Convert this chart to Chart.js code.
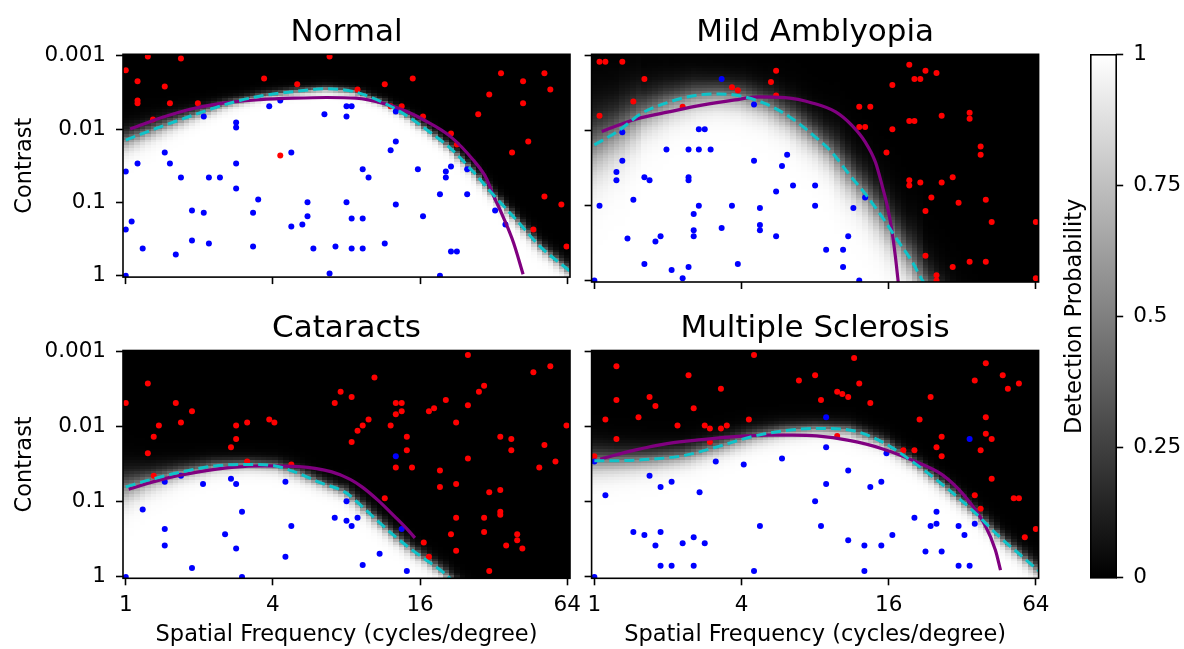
<!DOCTYPE html>
<html>
<head>
<meta charset="utf-8">
<script src="https://cdn.jsdelivr.net/npm/chart.js@4.4.1/dist/chart.umd.min.js"></script>
<style>
  html, body { margin: 0; padding: 0; background: #fff; }
  #fig { position: relative; width: 1184px; height: 649px; overflow: hidden; background: #fff; }
  canvas { position: absolute; }
</style>
</head>
<body>
<div id="fig">
  <canvas id="normal" width="600" height="300" style="left:0px;top:0px"></canvas>
  <canvas id="amblyopia" width="490" height="300" style="left:570px;top:0px"></canvas>
  <canvas id="cataracts" width="600" height="349" style="left:0px;top:300px"></canvas>
  <canvas id="sclerosis" width="490" height="349" style="left:570px;top:300px"></canvas>
  <canvas id="cbar" width="139" height="649" style="left:1045px;top:0px"></canvas>
</div>
<script>
// tick values
const freqTicks = [1, 4, 16, 64];
const contrastTicks = [0.001, 0.01, 0.1, 1];
const probTicks = [0, 0.25, 0.5, 0.75, 1];

// all points / curves are [log2 cycles per degree, log10 contrast]

// Normal
const normalMissed = [[0.30,-2.99],[0.75,-2.96],[0,-2.80],[0.16,-2.65],[0.53,-2.58],[0.16,-2.39],[0.16,-2.35],[0.60,-2.35],[0.98,-2.35],[1.88,-2.69],[2.33,-2.61],[2.77,-2.99],[0.37,-2.13],[2.10,-1.64],[3.15,-2.54],[3.52,-2.61],[3.90,-2.69],[3.60,-2.31],[3.75,-2.31],[4.04,-2.17],[4.42,-1.94],[4.50,-1.79],[4.79,-2.20],[4.94,-2.47],[5.10,-2.76],[5.40,-2.65],[5.40,-2.35],[5.69,-2.76],[5.77,-2.54],[5.47,-1.83],[5.25,-1.68],[5.69,-1.08],[5.92,-0.97],[5.54,-0.63],[5.99,-0.40]];
const normalSeen = [[1.95,-2.31],[2.10,-2.39],[1.06,-2.17],[1.50,-2.09],[1.50,-2.02],[2.70,-2.20],[3.00,-2.31],[3.00,-2.17],[0.53,-1.68],[2.25,-1.68],[0.16,-1.53],[0.60,-1.53],[1.50,-1.53],[0,-1.42],[0.75,-1.34],[1.13,-1.34],[1.28,-1.34],[1.50,-1.19],[1.80,-1.04],[2.47,-1.00],[3.00,-1.00],[0.90,-0.89],[1.06,-0.86],[1.73,-0.86],[2.47,-0.81],[0.08,-0.74],[0,-0.63],[2.25,-0.67],[2.40,-0.70],[0.90,-0.48],[1.13,-0.44],[0.23,-0.37],[0.68,-0.29],[1.73,-0.40],[2.55,-0.37],[2.85,-0.40],[2.77,-0.03],[0,0],[3.07,-2.31],[3.67,-2.24],[3.67,-1.83],[3.60,-1.71],[3.22,-1.45],[3.30,-1.34],[3.97,-1.45],[4.35,-1.42],[4.35,-1.34],[4.42,-1.49],[4.64,-1.45],[3.67,-0.97],[4.27,-1.11],[4.64,-1.11],[3.07,-0.78],[3.22,-0.78],[4.04,-0.81],[5.02,-0.89],[5.16,-0.70],[3.52,-0.44],[3.07,-0.37],[3.22,-0.37],[4.42,-0.33],[4.50,-0.33],[4.27,0]];
const normalTrue = [[0.06,-2.00],[0.47,-2.15],[0.92,-2.28],[1.37,-2.36],[1.83,-2.40],[2.28,-2.42],[2.73,-2.43],[3.13,-2.42],[3.50,-2.35],[3.82,-2.24],[4.04,-2.13],[4.41,-1.90],[4.72,-1.58],[4.90,-1.33],[4.99,-1.11],[5.13,-0.80],[5.27,-0.45],[5.40,-0.02]];
const normalEst = [[0,-1.85],[0.47,-2.03],[0.92,-2.19],[1.37,-2.34],[1.83,-2.45],[2.28,-2.51],[2.73,-2.55],[3.10,-2.51],[3.50,-2.36],[3.82,-2.18],[4.13,-1.96],[4.41,-1.74],[4.72,-1.42],[4.99,-1.11],[5.31,-0.76],[5.63,-0.40],[6.04,-0.06]];
const normalSpread = [0.075,0.06,0.045,0.035,0.03,0.028,0.027,0.027,0.027,0.028,0.03,0.03,0.03,0.03,0.032,0.035,0.04];

// Mild Amblyopia
const amblyopiaMissed = [[0.07,-2.92],[0.15,-2.92],[0.38,-2.92],[0.68,-2.69],[0.53,-2.39],[0.07,-2.20],[1.20,-2.32],[1.87,-2.58],[1.95,-2.54],[2.40,-2.65],[2.47,-2.80],[2.47,-2.47],[4.28,-2.88],[4.50,-2.80],[4.65,-2.77],[4.35,-2.69],[4.43,-2.69],[4.05,-2.61],[3.60,-2.32],[3.75,-2.32],[3.60,-2.05],[3.68,-2.05],[4.28,-2.13],[4.35,-2.13],[4.72,-2.20],[5.10,-2.24],[5.10,-2.16],[4.05,-2.02],[3.97,-1.71],[5.25,-1.79],[5.25,-1.68],[4.28,-1.34],[4.28,-1.27],[4.43,-1.31],[4.72,-1.31],[4.87,-1.38],[4.58,-1.11],[4.95,-1.04],[5.32,-1.08],[4.50,-0.93],[5.40,-0.78],[6.00,-0.78],[4.50,-0.33],[4.87,-0.18],[5.10,-0.25],[5.32,-0.25],[4.65,-0.07],[4.65,0],[6.00,-0.03]];
const amblyopiaSeen = [[1.73,-2.69],[2.17,-2.35],[0.38,-1.98],[1.42,-2.02],[1.50,-2.02],[0.98,-1.75],[1.28,-1.75],[1.42,-1.75],[1.58,-1.75],[0.38,-1.60],[2.17,-1.60],[2.62,-1.68],[2.55,-1.53],[0.30,-1.45],[0.30,-1.34],[0.68,-1.38],[0.75,-1.34],[1.28,-1.38],[1.28,-1.34],[2.47,-1.19],[2.70,-1.27],[3.00,-1.27],[3.00,-1.00],[0.53,-1.08],[0.07,-1.00],[1.42,-1.00],[1.87,-1.00],[2.25,-0.97],[1.35,-0.89],[1.73,-0.70],[1.35,-0.67],[1.35,-0.59],[2.25,-0.74],[2.25,-0.67],[2.47,-0.59],[0.45,-0.56],[0.83,-0.52],[0.90,-0.59],[0.68,-0.22],[1.05,-0.14],[1.28,-0.18],[1.95,-0.22],[1.20,-0.03],[0,0],[3.68,-1.11],[3.52,-0.97],[3.45,-0.59],[3.15,-0.41],[3.38,-0.41],[3.38,-0.18],[3.60,0]];
const amblyopiaTrue = [[0.10,-1.99],[0.55,-2.15],[1.01,-2.25],[1.46,-2.34],[1.91,-2.41],[2.23,-2.45],[2.59,-2.44],[2.96,-2.37],[3.28,-2.25],[3.50,-2.07],[3.68,-1.85],[3.82,-1.58],[3.91,-1.27],[3.98,-1.00],[4.04,-0.69],[4.09,-0.33],[4.13,0.02]];
const amblyopiaEst = [[0,-1.81],[0.33,-2.00],[0.64,-2.23],[1.01,-2.38],[1.37,-2.47],[1.69,-2.49],[2.00,-2.46],[2.37,-2.34],[2.69,-2.16],[3.02,-1.90],[3.23,-1.71],[3.46,-1.42],[3.68,-1.16],[3.91,-0.85],[4.14,-0.51],[4.32,-0.25],[4.46,0],[4.55,0.12]];
const amblyopiaSpread = [0.2,0.17,0.14,0.12,0.11,0.1,0.1,0.1,0.1,0.1,0.1,0.1,0.1,0.1,0.1,0.1,0.1,0.1];

// Cataracts
const cataractsMissed = [[0.30,-2.58],[0,-2.32],[0.68,-2.32],[0.90,-2.21],[0.45,-2.02],[0.75,-2.06],[0.38,-1.87],[0.30,-1.65],[1.50,-2.02],[1.50,-1.84],[1.43,-1.73],[1.65,-2.06],[1.95,-2.10],[2.02,-2.06],[2.84,-2.32],[2.92,-2.47],[0.38,-1.35],[1.65,-1.54],[2.25,-1.50],[4.65,-2.96],[3.38,-2.66],[5.54,-2.73],[5.77,-2.81],[3.07,-2.40],[3.67,-2.32],[3.75,-2.32],[3.67,-2.17],[3.75,-2.21],[4.35,-2.36],[4.12,-2.21],[4.19,-2.25],[4.80,-2.47],[4.87,-2.55],[4.65,-2.29],[3.30,-2.10],[3.22,-2.02],[3.15,-1.95],[3.07,-1.80],[3.60,-2.02],[3.82,-1.87],[3.82,-1.69],[4.49,-2.06],[5.99,-2.02],[5.09,-1.87],[5.24,-1.84],[5.24,-1.69],[5.69,-1.76],[3.67,-1.46],[3.89,-1.46],[4.65,-1.58],[4.27,-1.42],[5.62,-1.46],[5.84,-1.54],[4.27,-1.20],[4.49,-1.24],[4.94,-1.13],[5.09,-1.16],[3.52,-1.05],[5.09,-0.87],[5.09,-0.83],[4.49,-0.79],[4.87,-0.79],[4.87,-0.60],[4.42,-0.57],[5.32,-0.57],[5.32,-0.49],[5.17,-0.42],[5.39,-0.38],[4.05,-0.46],[4.49,-0.35],[4.12,-0.27],[4.94,-0.08]];
const cataractsSeen = [[0.53,-1.27],[0.75,-1.35],[1.05,-1.24],[1.43,-1.31],[1.50,-1.24],[2.17,-1.27],[0.23,-0.90],[1.58,-0.87],[0.53,-0.64],[1.35,-0.57],[2.25,-0.68],[0.53,-0.42],[1.50,-0.38],[2.17,-0.27],[0.90,-0.12],[0,0],[1.58,0],[2.84,-0.79],[3.00,-0.75],[3.00,-1.01],[3.67,-1.61],[3.07,-0.68],[3.15,-0.79],[3.75,-0.64],[3.45,-0.31],[3.22,-0.16],[3.82,-0.08]];
const cataractsTrue = [[0.04,-1.17],[0.53,-1.31],[0.99,-1.40],[1.44,-1.46],[1.89,-1.48],[2.35,-1.47],[2.80,-1.40],[3.05,-1.30],[3.21,-1.20],[3.43,-1.02],[3.66,-0.80],[3.84,-0.62],[3.93,-0.52]];
const cataractsEst = [[0,-1.20],[0.31,-1.29],[0.76,-1.40],[1.21,-1.48],[1.67,-1.50],[2.03,-1.48],[2.35,-1.38],[2.66,-1.25],[2.98,-1.13],[3.21,-0.94],[3.43,-0.74],[3.66,-0.54],[3.89,-0.36],[4.12,-0.20],[4.33,-0.05],[4.45,0.06],[4.55,0.15]];
const cataractsSpread = [0.11,0.08,0.06,0.05,0.045,0.045,0.045,0.04,0.04,0.04,0.04,0.04,0.04,0.04,0.04,0.04,0.04];

// Multiple Sclerosis
const sclerosisMissed = [[0.30,-2.81],[1.28,-2.69],[2.17,-2.96],[1.72,-2.51],[0.30,-2.36],[0.75,-2.40],[0.83,-2.28],[1.35,-2.25],[0.15,-2.10],[0.60,-2.13],[1.13,-2.02],[1.50,-2.02],[1.57,-1.98],[1.72,-1.98],[1.80,-2.02],[2.10,-2.10],[0.30,-1.84],[2.78,-2.62],[3.00,-2.69],[0,-1.61],[1.57,-1.80],[3.53,-2.92],[3.60,-2.58],[3.30,-2.47],[3.37,-2.44],[3.45,-2.40],[3.08,-2.36],[3.75,-2.32],[4.57,-2.40],[4.42,-2.10],[4.72,-1.87],[4.65,-1.73],[4.72,-1.61],[4.20,-1.69],[4.35,-1.69],[5.32,-2.85],[5.55,-2.69],[5.17,-2.62],[5.62,-2.51],[5.77,-2.58],[5.32,-2.13],[5.32,-1.91],[5.40,-1.84],[5.25,-1.69],[5.40,-1.31],[5.17,-1.09],[5.70,-1.05],[5.77,-1.05],[5.25,-0.91],[5.85,-0.53],[6.00,-0.64],[3.30,-1.88]];
const sclerosisSeen = [[0,-1.54],[1.65,-1.54],[2.03,-1.50],[2.55,-1.58],[0.75,-1.35],[0.90,-1.20],[1.05,-1.27],[1.43,-1.13],[0.15,-1.09],[3.00,-1.01],[2.25,-0.68],[0.53,-0.60],[0.68,-0.56],[0.90,-0.60],[0.83,-0.42],[1.20,-0.45],[1.35,-0.53],[1.50,-0.45],[0.90,-0.15],[1.05,-0.15],[1.35,-0.15],[2.17,-0.08],[0,0],[3.15,-2.13],[5.10,-1.84],[3.15,-1.73],[3.97,-1.65],[3.45,-1.42],[3.15,-1.24],[3.75,-1.20],[3.90,-1.27],[3.08,-0.68],[4.35,-0.79],[4.65,-0.87],[4.57,-0.68],[4.65,-0.71],[4.95,-0.68],[5.03,-0.56],[5.17,-0.71],[4.05,-0.56],[3.45,-0.49],[3.67,-0.42],[3.90,-0.42],[4.50,-0.34],[4.72,-0.34],[4.95,-0.15],[5.10,-0.15],[3.67,-0.08]];
const sclerosisTrue = [[0.08,-1.57],[0.55,-1.69],[1.01,-1.78],[1.46,-1.83],[1.91,-1.87],[2.37,-1.89],[2.69,-1.89],[3.02,-1.88],[3.46,-1.82],[3.91,-1.71],[4.36,-1.54],[4.73,-1.36],[5.04,-1.07],[5.31,-0.69],[5.45,-0.36],[5.52,-0.09]];
const sclerosisEst = [[0,-1.55],[0.33,-1.55],[0.78,-1.57],[1.23,-1.62],[1.69,-1.74],[2.14,-1.87],[2.59,-1.95],[3.02,-1.98],[3.46,-1.96],[3.91,-1.80],[4.36,-1.51],[4.82,-1.16],[5.18,-0.85],[5.50,-0.54],[5.77,-0.31],[6.04,-0.08]];
const sclerosisSpread = [0.1,0.09,0.08,0.07,0.065,0.06,0.055,0.05,0.05,0.045,0.04,0.04,0.04,0.04,0.04,0.045];

// probability grid (81 x 81 cells over 6 octaves x 3 decades)
const gridN = 81;
const lfLo = 0, lfHi = 6, lcLo = -3, lcHi = 0;
const dF = (lfHi - lfLo) / (gridN - 1);
const dC = (lcHi - lcLo) / (gridN - 1);

Chart.defaults.font.family = 'DejaVu Sans';
Chart.defaults.font.size = 21.5;
Chart.defaults.color = '#000';

const toXY = arr => arr.map(([lf, lc]) => ({ x: 2 ** lf, y: 10 ** lc }));

function interp(xs, ys, x) {
  let i = 0;
  while (i < xs.length - 2 && x > xs[i + 1]) i++;
  const t = (x - xs[i]) / (xs[i + 1] - xs[i]);
  return ys[i] + t * (ys[i + 1] - ys[i]);
}

// grey detection-probability map around the estimated threshold curve
function heatmap(curve, spread) {
  const kx = curve.map(p => p[0]), ky = curve.map(p => p[1]);
  return {
    id: 'heatmap',
    beforeDatasetsDraw(chart) {
      const { ctx, chartArea: a, scales: { x, y } } = chart;
      const pxDec = Math.abs(y.getPixelForValue(1) - y.getPixelForValue(0.1));
      const thrPx = lf => y.getPixelForValue(10 ** interp(kx, ky, lf));
      ctx.save();
      ctx.beginPath();
      ctx.rect(a.left, a.top, a.right - a.left, a.bottom - a.top);
      ctx.clip();
      for (let i = 0; i < gridN; i++) {
        const lf = lfLo + i * dF;
        const x0 = Math.round(x.getPixelForValue(2 ** (lf - dF / 2)));
        const x1 = Math.round(x.getPixelForValue(2 ** (lf + dF / 2)));
        const h = 0.02;
        const slope = (thrPx(lf + h) - thrPx(lf - h)) /
          (x.getPixelForValue(2 ** (lf + h)) - x.getPixelForValue(2 ** (lf - h)));
        const norm = Math.sqrt(1 + slope * slope);
        const thr = thrPx(lf);
        const w = Math.max(0.015, interp(kx, spread, lf)) * pxDec;
        for (let j = 0; j < gridN; j++) {
          const lc = lcLo + j * dC;
          const d = (y.getPixelForValue(10 ** lc) - thr) / norm;
          const v = Math.round(255 / (1 + Math.exp(-d / w)));
          const y0 = Math.round(y.getPixelForValue(10 ** (lc - dC / 2)));
          const y1 = Math.round(y.getPixelForValue(10 ** (lc + dC / 2)));
          ctx.fillStyle = `rgb(${v},${v},${v})`;
          ctx.fillRect(x0, Math.min(y0, y1), x1 - x0, Math.abs(y1 - y0));
        }
      }
      ctx.restore();
    }
  };
}

const frame = {
  id: 'frame',
  afterDatasetsDraw(chart) {
    const { ctx, chartArea: a } = chart;
    ctx.save();
    ctx.strokeStyle = '#000';
    ctx.lineWidth = 1.6;
    ctx.strokeRect(a.left, a.top, a.right - a.left, a.bottom - a.top);
    ctx.restore();
  }
};

function labels(title, yLabel, xLabel) {
  return {
    id: 'labels',
    afterDraw(chart) {
      const { ctx, chartArea: a } = chart;
      ctx.save();
      ctx.fillStyle = '#000';
      ctx.textAlign = 'center';
      ctx.textBaseline = 'alphabetic';
      ctx.font = '31px "DejaVu Sans"';
      ctx.fillText(title, (a.left + a.right) / 2, a.top - 13.7);
      ctx.font = '22.5px "DejaVu Sans"';
      if (xLabel) ctx.fillText(xLabel, (a.left + a.right) / 2, a.bottom + 63);
      if (yLabel) {
        ctx.translate(30.6, (a.top + a.bottom) / 2);
        ctx.rotate(-Math.PI / 2);
        ctx.fillText(yLabel, 0, 0);
      }
      ctx.restore();
    }
  };
}

const tickGrid = { drawOnChartArea: false, drawTicks: true, tickLength: 7, tickWidth: 1.6, tickColor: '#000' };

function panel(id, title, missed, seen, truth, est, spread, box) {
  new Chart(document.getElementById(id), {
    type: 'scatter',
    data: {
      datasets: [
        { data: toXY(est), showLine: true, borderColor: '#0fc2c8', borderWidth: 3, borderDash: [10, 5],
          pointRadius: 0, fill: false, cubicInterpolationMode: 'monotone', clip: 0, order: 0 },
        { data: toXY(truth), showLine: true, borderColor: '#800080', borderWidth: 3.2,
          pointRadius: 0, fill: false, cubicInterpolationMode: 'monotone', clip: 0, order: 1 },
        { data: toXY(seen), backgroundColor: '#0000ff', borderColor: '#0000ff', pointRadius: 3,
          pointBorderWidth: 0, pointHoverRadius: 3, clip: 0, order: 2 },
        { data: toXY(missed), backgroundColor: '#ff0000', borderColor: '#ff0000', pointRadius: 3,
          pointBorderWidth: 0, pointHoverRadius: 3, clip: 0, order: 3 }
      ]
    },
    options: {
      animation: false,
      responsive: false,
      devicePixelRatio: 1,
      events: [],
      layout: { padding: { left: 0, right: box.right, top: box.top, bottom: 0 } },
      plugins: { legend: { display: false }, tooltip: { enabled: false } },
      scales: {
        x: {
          type: 'logarithmic',
          min: 2 ** (lfLo - dF / 2), max: 2 ** (lfHi + dF / 2),
          afterBuildTicks: s => { s.ticks = freqTicks.map(v => ({ value: v })); },
          afterFit: s => { s.height = box.xh; },
          ticks: { display: box.xTicks, callback: v => String(v), padding: 7, maxRotation: 0, autoSkip: false },
          grid: tickGrid,
          border: { display: false }
        },
        y: {
          type: 'logarithmic',
          reverse: true,
          min: 10 ** (lcLo - dC / 2), max: 10 ** (lcHi + dC / 2),
          afterBuildTicks: s => { s.ticks = contrastTicks.map(v => ({ value: v })); },
          afterFit: s => { s.width = box.yw; },
          ticks: { display: box.yTicks, callback: v => String(v), padding: 10, autoSkip: false },
          grid: tickGrid,
          border: { display: false }
        }
      }
    },
    plugins: [heatmap(est, spread), frame,
      labels(title, box.yTicks ? 'Contrast' : null, box.xTicks ? 'Spatial Frequency (cycles/degree)' : null)]
  });
}

panel('normal', 'Normal', normalMissed, normalSeen, normalTrue, normalEst, normalSpread,
  { top: 54.3, right: 30, yw: 123, xh: 18, xTicks: false, yTicks: true });
panel('amblyopia', 'Mild Amblyopia', amblyopiaMissed, amblyopiaSeen, amblyopiaTrue, amblyopiaEst, amblyopiaSpread,
  { top: 54.3, right: 21.4, yw: 21.6, xh: 18, xTicks: false, yTicks: false });
panel('cataracts', 'Cataracts', cataractsMissed, cataractsSeen, cataractsTrue, cataractsEst, cataractsSpread,
  { top: 50.5, right: 30, yw: 123, xh: 70.7, xTicks: true, yTicks: true });
panel('sclerosis', 'Multiple Sclerosis', sclerosisMissed, sclerosisSeen, sclerosisTrue, sclerosisEst, sclerosisSpread,
  { top: 50.5, right: 21.4, yw: 21.6, xh: 70.7, xTicks: true, yTicks: false });

// colorbar
const colorbar = {
  id: 'colorbar',
  beforeDatasetsDraw(chart) {
    const { ctx, chartArea: a, scales: { y } } = chart;
    const y0 = y.getPixelForValue(0), y1 = y.getPixelForValue(1);
    const g = ctx.createLinearGradient(0, y0, 0, y1);
    g.addColorStop(0, '#000');
    g.addColorStop(1, '#fff');
    ctx.save();
    ctx.fillStyle = g;
    ctx.fillRect(a.left, y1, a.right - a.left, y0 - y1);
    ctx.strokeStyle = '#000';
    ctx.lineWidth = 1.6;
    ctx.strokeRect(a.left, a.top, a.right - a.left, a.bottom - a.top);
    ctx.fillStyle = '#000';
    ctx.font = '22.5px "DejaVu Sans"';
    ctx.textAlign = 'center';
    ctx.translate(35.8, (a.top + a.bottom) / 2);
    ctx.rotate(-Math.PI / 2);
    ctx.fillText('Detection Probability', 0, 0);
    ctx.restore();
  }
};

new Chart(document.getElementById('cbar'), {
  type: 'scatter',
  data: { datasets: [{ data: [] }] },
  options: {
    animation: false,
    responsive: false,
    devicePixelRatio: 1,
    events: [],
    layout: { padding: { left: 45.8, right: 0, top: 54.8, bottom: 71.2 } },
    plugins: { legend: { display: false }, tooltip: { enabled: false } },
    scales: {
      x: { display: false, min: 0, max: 1 },
      y: {
        position: 'right',
        min: 0, max: 1,
        afterBuildTicks: s => { s.ticks = probTicks.map(v => ({ value: v })); },
        afterFit: s => { s.width = 67.8; },
        ticks: { callback: v => String(v), padding: 10 },
        grid: tickGrid,
        border: { display: false }
      }
    }
  },
  plugins: [colorbar]
});
</script>
</body>
</html>
